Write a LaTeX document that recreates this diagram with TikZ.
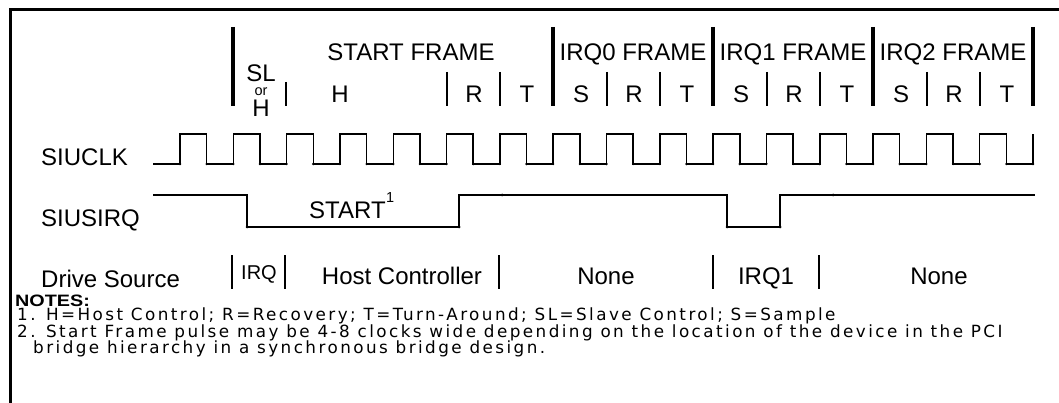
\documentclass[tikz,border=0pt]{standalone}
\usepackage{fontspec}
\setmainfont{Liberation Sans}
\newfontfamily\notefont[LetterSpace=14.5]{DejaVu Sans}
\begin{document}
\begin{tikzpicture}[x=1pt,y=-1pt,
  lbl/.style={inner sep=0pt, font=\fontsize{24}{24}\selectfont},
  small/.style={inner sep=0pt, font=\fontsize{20}{20}\selectfont},
  tiny/.style={inner sep=0pt, font=\fontsize{14.5}{14.5}\selectfont},
  note/.style={inner sep=0pt, font=\notefont\fontsize{16.8}{16.8}\selectfont},
  wave/.style={line width=1.5pt, line join=miter},
  thickbar/.style={line width=4.5pt},
  thinbar/.style={line width=1.5pt},
  border/.style={line width=3pt},
  tdot/.style={fill=black}
]
\useasboundingbox (0,0) rectangle (1059,403);
% border
\draw[border] (1059,9.5) -- (10,9.5) -- (10,403);

% top header bars
\foreach \x in {233,553,713,873,1033} \draw[thickbar] (\x,27) -- (\x,106);
\draw[thinbar] (286,82) -- (286,106);
\foreach \x in {447,500,607,660,767,820,927,980} \draw[thinbar] (\x,72) -- (\x,106);

% header text
\node[lbl,anchor=base] (sf) at (411,61) {START FRAME};
\node[lbl,anchor=base] (f0) at (633,61) {IRQ0 FRAME};
\node[lbl,anchor=base] (f1) at (793,61) {IRQ1 FRAME};
\node[lbl,anchor=base] (f2) at (953,61) {IRQ2 FRAME};
\node[lbl,anchor=base] (sl) at (261,81.5) {SL};
\node[tiny,anchor=base] (or) at (261,96) {or};
\node[lbl,anchor=base] (slh) at (261,117) {H};
\node[lbl,anchor=base] (h0) at (340,103) {H};
\node[lbl,anchor=base] (r0) at (474,103) {R};
\node[lbl,anchor=base] (t0) at (527,103) {T};
\node[lbl,anchor=base] (s1) at (581,103) {S};
\node[lbl,anchor=base] (r1) at (634,103) {R};
\node[lbl,anchor=base] (t1) at (687,103) {T};
\node[lbl,anchor=base] (s2) at (741,103) {S};
\node[lbl,anchor=base] (r2) at (794,103) {R};
\node[lbl,anchor=base] (t2) at (847,103) {T};
\node[lbl,anchor=base] (s3) at (901,103) {S};
\node[lbl,anchor=base] (r3) at (954,103) {R};
\node[lbl,anchor=base] (t3) at (1007,103) {T};

% signal labels
\node[lbl,anchor=base west] (clk) at (41,166) {SIUCLK};
\node[lbl,anchor=base west] (irq) at (41,226) {SIUSIRQ};
\node[lbl,anchor=base west] (drv) at (41,287) {Drive Source};

% clock
\draw[wave] (153,164)
  \foreach \k in {0,...,15} {
    -- ({180+\k*53.3125},164) -- ({180+\k*53.3125},134)
    -- ({206.66+\k*53.3125},134) -- ({206.66+\k*53.3125},164) }
  -- (1033,164) -- (1033,134);
\foreach \k in {0,...,15} {
  \fill[tdot] ({180+\k*53.3125},164) circle (1.3);
  \fill[tdot] ({206.66+\k*53.3125},164) circle (1.3);
}
\fill[tdot] (1033,164) circle (1.3);

% SIUSIRQ
\draw[wave] (153,195) -- (247,195) -- (247,227) -- (459,227) -- (459,195)
  -- (727,195) -- (727,227) -- (780,227) -- (780,195) -- (1035,195);
\foreach \p in {(247,227),(459,227),(502,195),(727,227),(780,227),(833,195)}
  \fill[tdot] \p circle (1.5);
\node[lbl,anchor=base west] (start) at (309,219) {START};
\node[tiny,anchor=base west] (sup) at (386,203) {1};

% drive source row
\foreach \x in {232,285,499,713,819} \draw[thinbar] (\x,255) -- (\x,289);
\node[small,anchor=base] (dirq) at (259,279) {IRQ};
\node[lbl,anchor=base] (host) at (402,284) {Host Controller};
\node[lbl,anchor=base] (none1) at (606,284) {None};
\node[lbl,anchor=base] (dirq1) at (766,284) {IRQ1};
\node[lbl,anchor=base] (none2) at (939,284) {None};

% notes
\node[inner sep=0pt, anchor=base west] (notes) at (15,306)
  {\scalebox{1.2}[1]{\bfseries\fontsize{16.5}{16.5}\selectfont NOTES:}};
\node[note,anchor=base west] (n1) at (17,320.5) {1. H=Host Control; R=Recovery; T=Turn-Around; SL=Slave Control; S=Sample};
\node[note,anchor=base west] (n2) at (17,337) {2. Start Frame pulse may be 4-8 clocks wide depending on the location of the device in the PCI};
\node[note,anchor=base west] (n3) at (33,353.5) {bridge hierarchy in a synchronous bridge design.};
\end{tikzpicture}
\end{document}
